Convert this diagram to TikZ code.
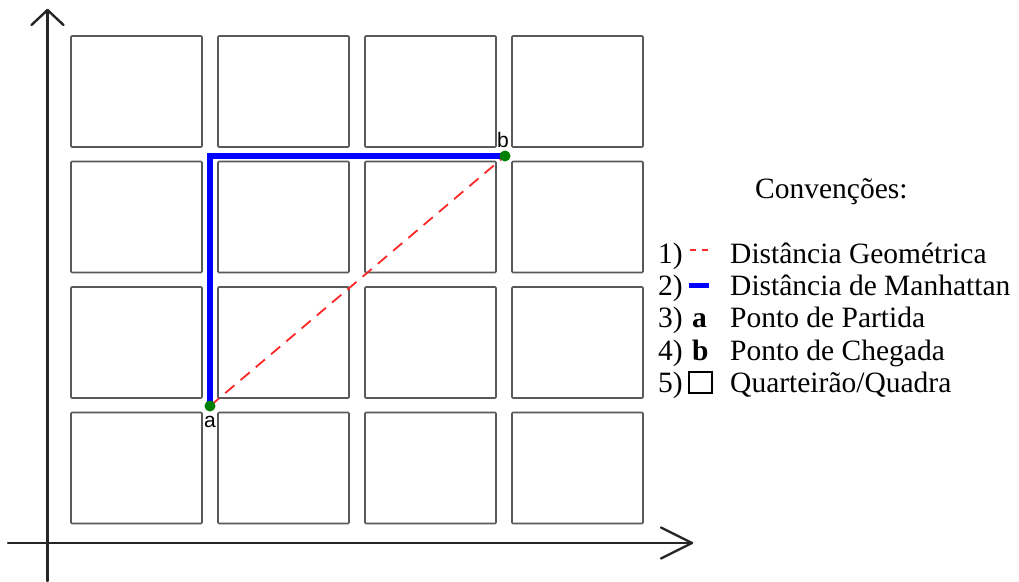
\documentclass[tikz,border=0pt]{standalone}
\usepackage{fontspec}
\setmainfont{Liberation Serif}
\newfontfamily\labelfont{Liberation Sans}
\begin{document}
\begin{tikzpicture}[x=1pt,y=-1pt,
  block/.style={draw=black!65, line width=1.6pt, rounded corners=1pt},
  axis/.style={draw=black!85, line width=2.4pt, line cap=round, line join=round},
  manh/.style={draw=blue, line width=6pt},
  geo/.style={draw=red!85, line width=1.8pt, dash pattern=on 12pt off 8pt},
  dot/.style={circle, fill=green!50!black, inner sep=0pt, minimum size=11pt},
  ptlabel/.style={font=\labelfont\fontsize{21}{21}\selectfont, inner sep=0pt},
  legtext/.style={font=\rmfamily\fontsize{29.5}{34}\selectfont, inner sep=0pt, anchor=base west},
]
\useasboundingbox (0,0) rectangle (1019,581);

% blocks
\foreach \i in {0,...,3}
  \foreach \j in {0,...,3}
    \draw[block] ({71+147*\i},{36+125.5*\j}) rectangle ++(131,111);

% axes
\coordinate (yb) at (47.5,581);
\coordinate (yt) at (47.5,10);
\coordinate (xl) at (8,543);
\coordinate (xr) at (692,543);
\draw[axis] (yb) -- (yt);
\draw[axis] (yt) ++(-16,15) -- (yt) -- ++(16,15);
\draw[axis] (xl) -- (xr);
\draw[axis] (xr) ++(-31,-15.5) -- (xr) -- ++(-31,15.5);

% paths
\coordinate (a) at (210,406);
\coordinate (c) at (210,156);
\coordinate (b) at (505,156);
\draw[manh] (a) -- (c) -- (b);
\draw[geo] (a) -- (b);
\node[dot] (pa) at (a) {};
\node[dot] (pb) at (b) {};
\node[ptlabel] (la) at (210,422) {a};
\node[ptlabel] (lb) at (503,139.5) {b};

% legend
\node[legtext] (conv) at (755,198) {Convenções:};
\node[legtext] (n1) at (658,263) {1)};
\node[legtext] (n2) at (658,295.5) {2)};
\node[legtext] (n3) at (658,327.7) {3)};
\node[legtext] (n4) at (658,360) {4)};
\node[legtext] (n5) at (658,392) {5)};
\node[legtext] (t1) at (730,263) {Distância Geométrica};
\node[legtext] (t2) at (730,295.5) {Distância de Manhattan};
\node[legtext] (t3) at (730,327.7) {Ponto de Partida};
\node[legtext] (t4) at (730,360) {Ponto de Chegada};
\node[legtext] (t5) at (730,392) {Quarteirão/Quadra};
\coordinate (g1) at (690,250);
\coordinate (g2) at (708,250);
\draw[geo, dash pattern=on 6pt off 6pt] (g1) -- (g2);
\coordinate (m1) at (689,285);
\coordinate (m2) at (709,285);
\draw[manh, line width=5pt] (m1) -- (m2);
\node[legtext] (sa) at (692,327.7) {\textbf{a}};
\node[legtext] (sb) at (692,360) {\textbf{b}};
\draw[black, line width=1.2pt] (689,372) rectangle (712,393);
\end{tikzpicture}
\end{document}
